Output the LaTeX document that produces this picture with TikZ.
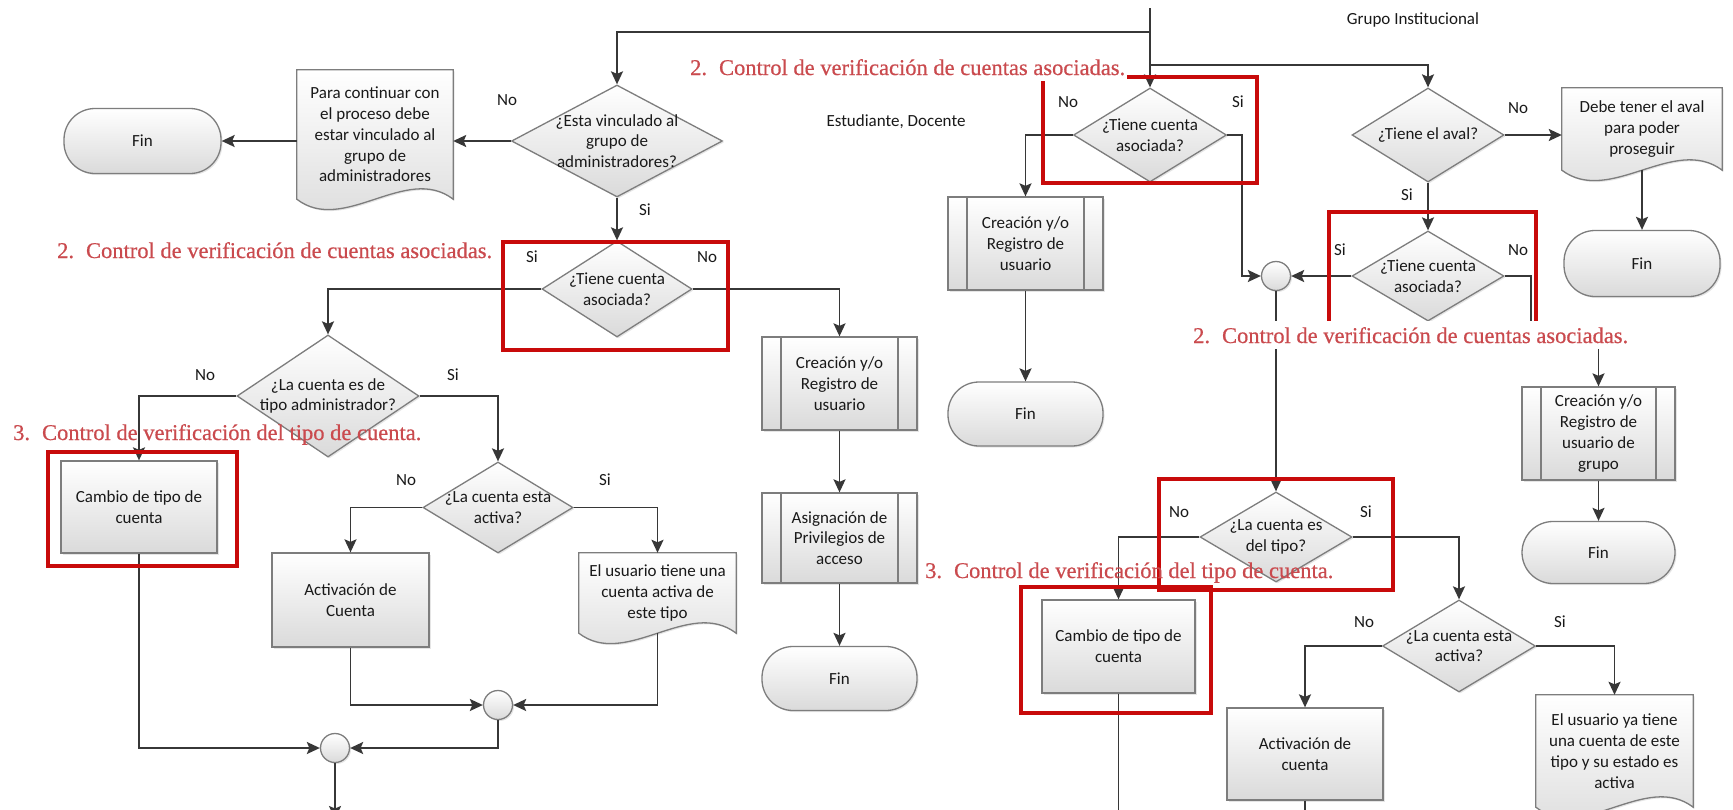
\documentclass[tikz,border=0pt]{standalone}
\usepackage{fontspec}
\setmainfont{Carlito}
\newfontfamily\notefont{Liberation Serif}[FakeBold=0.6]
\usetikzlibrary{shapes.geometric,arrows.meta,calc,backgrounds,shadows}

\definecolor{inkline}{RGB}{55,55,55}
\definecolor{shapeedge}{RGB}{125,125,125}
\definecolor{shapelow}{RGB}{218,218,218}
\definecolor{boxred}{RGB}{200,10,10}
\definecolor{notered}{RGB}{202,74,78}
\definecolor{bodytext}{RGB}{25,25,25}

\tikzset{
  bodyfont/.style={font=\fontsize{17}{20.8}\selectfont, text=bodytext},
  shapebase/.style={draw=shapeedge, line width=1.3pt, top color=white, bottom color=shapelow,
    drop shadow={shadow xshift=1.5pt, shadow yshift=-1.5pt, opacity=0.2}},
  procbox/.style={shapebase, rectangle, bodyfont, align=center, inner sep=0pt,
    minimum width=155pt, minimum height=93pt},
  predef/.style={procbox, path picture={\draw[shapeedge, line width=1.2pt]
      ([xshift=19pt]path picture bounding box.north west) -- ([xshift=19pt]path picture bounding box.south west)
      ([xshift=-19pt]path picture bounding box.north east) -- ([xshift=-19pt]path picture bounding box.south east);}},
  term/.style={shapebase, rectangle, rounded corners=31pt, bodyfont,
    minimum width=155pt, minimum height=64pt},
  decision/.style={shapebase, diamond, inner sep=0pt},
  dtext/.style={bodyfont, align=center, inner sep=0pt},
  joint/.style={shapebase, circle, minimum size=29pt, inner sep=0pt},
  docnode/.style={rectangle, bodyfont, align=center, inner sep=0pt},
  docoutline/.style={shapebase},
  conn/.style={draw=inkline, line width=1.8pt, -{Stealth[length=13pt,width=12pt,inset=2.5pt]}},
  wire/.style={draw=inkline, line width=1.8pt},
  redframe/.style={draw=boxred, line width=3.2pt},
  note/.style={font=\notefont\fontsize{22.5}{26}\selectfont, text=notered, anchor=west,
    inner xsep=2pt, inner ysep=3.5pt, text height=19pt, text depth=2pt},
  answer/.style={bodyfont, inner sep=0pt},
}

\begin{document}
\begin{tikzpicture}[x=1pt,y=-1pt]
\useasboundingbox (0,0) rectangle (1733,809);
\begin{scope}[on background layer]
  \fill[white] (0,0) rectangle (1733,809);
\end{scope}

% ---------- terminators
\node[term, minimum width=157pt, minimum height=65pt] (fin1) at (142.5,141) {Fin};
\node[term] (fin2) at (839.5,678.5) {Fin};
\node[term] (fin3) at (1025.5,414) {Fin};
\node[term, minimum width=156pt, minimum height=66pt] (fin4) at (1642,263.5) {Fin};
\node[term, minimum width=153pt, minimum height=62pt] (fin5) at (1598.5,552.5) {Fin};

% ---------- documents (outline added on the background layer below)
\node[docnode, minimum width=156pt, minimum height=129pt] (doca) at (375,134.5)
  {Para continuar con\\el proceso debe\\estar vinculado al\\grupo de\\administradores};
\node[docnode, minimum width=160pt, minimum height=82pt] (docb) at (1642,129)
  {Debe tener el aval\\para poder\\proseguir};
\node[docnode, minimum width=157pt, minimum height=80pt] (docc) at (657.5,593)
  {El usuario tiene una\\cuenta activa de\\este tipo};
\node[docnode, minimum width=157pt, minimum height=112pt] (docd) at (1614.5,751)
  {El usuario ya tiene\\una cuenta de este\\tipo y su estado es\\activa};

\begin{scope}[on background layer]
  \foreach \d in {doca,docb,docc,docd}{
    \path[docoutline] (\d.north west) -- (\d.north east) -- (\d.south east)
      .. controls ($(\d.south west)!0.7!(\d.south east)+(0,-36)$)
      and ($(\d.south west)!0.3!(\d.south east)+(0,36)$) .. (\d.south west) -- cycle;
  }
\end{scope}

% ---------- predefined processes
\node[predef] (pa) at (839.5,383.5) {Creación y/o\\Registro de\\usuario};
\node[predef, minimum height=90pt] (pb) at (839.5,538) {Asignación de\\Privilegios de\\acceso};
\node[predef] (pc) at (1025.5,243.5) {Creación y/o\\Registro de\\usuario};
\node[predef, minimum width=153pt] (pd) at (1598.5,433.5) {Creación y/o\\Registro de\\usuario de\\grupo};

% ---------- processes
\node[procbox, minimum width=156pt, minimum height=92pt] (chg1) at (139,507) {Cambio de tipo de\\cuenta};
\node[procbox, minimum width=157pt, minimum height=94pt] (act1) at (350.5,600) {Activación de\\Cuenta};
\node[procbox, minimum width=153pt] (chg2) at (1118.5,646.5) {Cambio de tipo de\\cuenta};
\node[procbox, minimum width=156pt, minimum height=92pt] (act2) at (1305,754) {Activación de\\cuenta};

% ---------- decisions
\node[decision, minimum width=211pt, minimum height=112pt,
  label={[dtext]center:{¿Esta vinculado al\\grupo de\\administradores?}}] (d1) at (617,141) {};
\node[decision, minimum width=150pt, minimum height=96pt,
  label={[dtext]center:{¿Tiene cuenta\\asociada?}}] (d2) at (617,289) {};
\node[decision, minimum width=182pt, minimum height=122pt,
  label={[dtext]center:{¿La cuenta es de\\tipo administrador?}}] (d3) at (328,396) {};
\node[decision, minimum width=150pt, minimum height=91pt,
  label={[dtext]center:{¿La cuenta esta\\activa?}}] (d4) at (498,507.5) {};
\node[decision, minimum width=153pt, minimum height=94pt,
  label={[dtext]center:{¿Tiene cuenta\\asociada?}}] (d5) at (1150,135) {};
\node[decision, minimum width=152pt, minimum height=94pt,
  label={[dtext]center:{¿Tiene el aval?}}] (daval) at (1428,135) {};
\node[decision, minimum width=152pt, minimum height=90pt,
  label={[dtext]center:{¿Tiene cuenta\\asociada?}}] (d7) at (1428,276) {};
\node[decision, minimum width=152pt, minimum height=90pt,
  label={[dtext]center:{¿La cuenta es\\del tipo?}}] (d8) at (1276,537) {};
\node[decision, minimum width=153pt, minimum height=92pt,
  label={[dtext]center:{¿La cuenta esta\\activa?}}] (d9) at (1459,646) {};

% ---------- merge points
\node[joint] (c1) at (498,705) {};
\node[joint] (c2) at (335,748) {};
\node[joint] (c3) at (1276,276) {};

% ---------- connectors
\coordinate (src) at (1150,8);
\coordinate (splitL) at (1150,32);
\coordinate (splitR) at (1150,65);
\coordinate (exitA) at (335,819);
\coordinate (exitB) at (1118.5,830);
\coordinate (exitC) at (1305,830);

\draw[conn] (src) -- (d5.north);
\draw[conn] (splitL) -| (d1.north);
\draw[conn] (splitR) -| (daval.north);

\draw[conn] (d1.west) -- (d1.west -| doca.east);
\draw[conn] (doca.west |- fin1.east) -- (fin1.east);
\draw[conn] (d1.south) -- (d2.north);
\draw[conn] (d2.west) -| (d3.north);
\draw[conn] (d2.east) -| (pa.north);
\draw[conn] (d3.west) -| (chg1.north);
\draw[conn] (d3.east) -| (d4.north);
\draw[conn] (d4.west) -| (act1.north);
\draw[conn] (d4.east) -| (docc.north);
\draw[conn] (act1.south) |- (c1.west);
\draw[conn] (docc.south) |- (c1.east);
\draw[conn] (c1.south) |- (c2.east);
\draw[conn] (chg1.south) |- (c2.west);
\draw[conn] (c2.south) -- (exitA);
\draw[conn] (pa.south) -- (pb.north);
\draw[conn] (pb.south) -- (fin2.north);

\draw[conn] (d5.west) -| (pc.north);
\draw[conn] (pc.south) -- (fin3.north);
\draw[conn] (d5.east) -- ++(15,0) |- (c3.west);
\draw[conn] (daval.east) -- (daval.east -| docb.west);
\draw[conn] (docb.south) -- (fin4.north);
\draw[conn] (daval.south) -- (d7.north);
\draw[conn] (d7.west) -- (c3.east);
\draw[conn] (d7.east) -- ++(26,0) -- ++(0,64) -| (pd.north);
\draw[conn] (pd.south) -- (fin5.north);
\draw[conn] (c3.south) -- (d8.north);
\draw[conn] (d8.west) -| (chg2.north);
\draw[conn] (d8.east) -| (d9.north);
\draw[conn] (d9.west) -| (act2.north);
\draw[conn] (d9.east) -| (docd.north);
\draw[wire] (chg2.south) -- (exitB);
\draw[wire] (act2.south) -- (exitC);

% ---------- highlighted controls
\draw[redframe] (503,242) rectangle (728,350);
\draw[redframe] (1043,77) rectangle (1257,183);
\draw[redframe] (1329,324) |- (1536,212) -- (1536,324);
\draw[redframe] (48,452) rectangle (237,566);
\draw[redframe] (1159,479) rectangle (1393,590);
\draw[redframe] (1021,587) rectangle (1211,713);

\node[note] (n1) at (55,249.5) {2.\hspace{12pt}Control de verificación de cuentas asociadas.};
\node[note, fill=white] (n2) at (688,66.5) {2.\hspace{12pt}Control de verificación de cuentas asociadas.};
\node[note, fill=white] (n3) at (1191,334.5) {2.\hspace{12pt}Control de verificación de cuentas asociadas.};
\node[note] (n4) at (11,431.5) {3.\hspace{12pt}Control de verificación del tipo de cuenta.};
\node[note] (n5) at (923,569.5) {3.\hspace{12pt}Control de verificación del tipo de cuenta.};

% ---------- branch answers
\node[answer] (a1) at (507,100) {No};
\node[answer] (a2) at (645,210) {Si};
\node[answer] (a3) at (532,257) {Si};
\node[answer] (a4) at (707,257) {No};
\node[answer] (a5) at (205,375) {No};
\node[answer] (a6) at (453,375) {Si};
\node[answer] (a7) at (406,480) {No};
\node[answer] (a8) at (605,480) {Si};
\node[answer] (a9) at (1068,102) {No};
\node[answer] (a10) at (1238,102) {Si};
\node[answer] (a11) at (1518,108) {No};
\node[answer] (a12) at (1407,195) {Si};
\node[answer] (a13) at (1340,250) {Si};
\node[answer] (a14) at (1518,250) {No};
\node[answer] (a15) at (1179,512) {No};
\node[answer] (a16) at (1366,512) {Si};
\node[answer] (a17) at (1364,622) {No};
\node[answer] (a18) at (1560,622) {Si};

% ---------- group captions
\node[answer] (g1) at (896,122) {Estudiante, Docente};
\node[answer] (g2) at (1413,20) {Grupo Institucional};
\end{tikzpicture}
\end{document}
